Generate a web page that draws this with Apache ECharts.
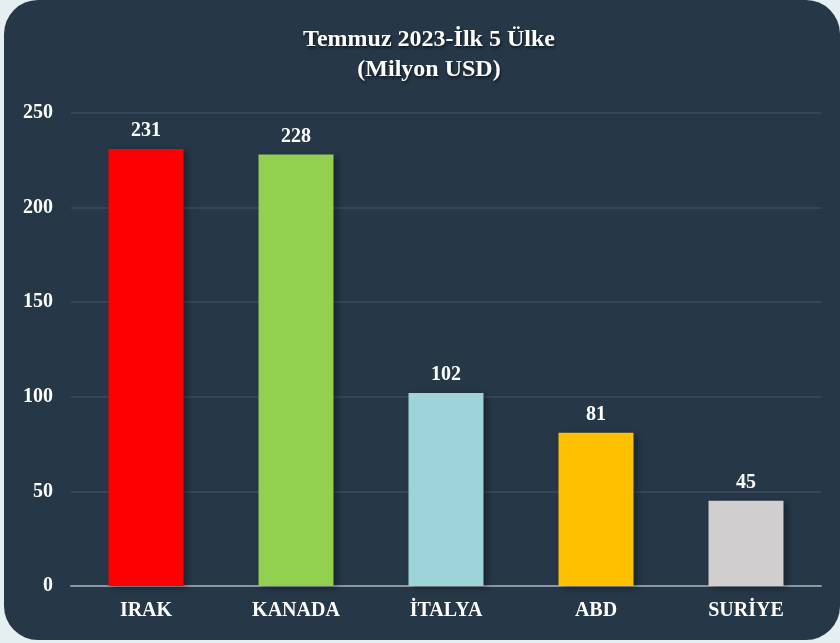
<!DOCTYPE html>
<html>
<head>
<meta charset="utf-8">
<script src="https://cdn.jsdelivr.net/npm/echarts@6/dist/echarts.min.js"></script>
<style>
    html, body { margin: 0; padding: 0; background: #e5eef0; }
    #panel {
        position: absolute; left: 4px; top: 0; width: 836px; height: 640px;
        background: #263747; border-radius: 34px;
    }
    #main { position: absolute; left: 0; top: 0; width: 840px; height: 643px; }
</style>
</head>
<body>
<div id="panel"></div>
<div id="main"></div>
<script>
const countries = ['IRAK', 'KANADA', 'İTALYA', 'ABD', 'SURİYE'];
const values = [231, 228, 102, 81, 45];
const barColors = ['#ff0000', '#92d050', '#9dd4da', '#ffc000', '#d0cece'];

var chart = echarts.init(document.getElementById('main'));
var serif = '"Liberation Serif", "Times New Roman", serif';

chart.setOption({
    backgroundColor: 'transparent',
    title: {
        text: 'Temmuz 2023-İlk 5 Ülke\n(Milyon USD)',
        left: 424,
        top: 20,
        textAlign: 'center',
        textStyle: {
            color: '#ffffff',
            fontFamily: serif,
            fontWeight: 'bold',
            fontSize: 24,
            lineHeight: 30,
            textShadowColor: 'rgba(0,0,0,0.6)',
            textShadowBlur: 3,
            textShadowOffsetX: 1,
            textShadowOffsetY: 2
        }
    },
    grid: {
        left: 71,
        right: 19,
        top: 113,
        bottom: 57
    },
    xAxis: {
        type: 'category',
        data: countries,
        axisTick: { show: false },
        axisLine: { lineStyle: { color: '#8e979f', width: 2 } },
        axisLabel: {
            color: '#ffffff',
            fontFamily: serif,
            fontWeight: 'bold',
            fontSize: 20,
            margin: 15
        }
    },
    yAxis: {
        type: 'value',
        min: 0,
        max: 250,
        interval: 50,
        axisLine: { show: false },
        axisTick: { show: false },
        splitLine: { lineStyle: { color: '#3b4c5c', width: 1.5 } },
        axisLabel: {
            color: '#ffffff',
            fontFamily: serif,
            fontWeight: 'bold',
            fontSize: 20,
            margin: 18
        }
    },
    series: [{
        type: 'bar',
        data: values.map(function (v, i) {
            return { value: v, itemStyle: { color: barColors[i] } };
        }),
        barWidth: '50%',
        itemStyle: {
            shadowColor: 'rgba(0,0,0,0.35)',
            shadowBlur: 6,
            shadowOffsetX: 3,
            shadowOffsetY: 2
        },
        label: {
            show: true,
            position: 'top',
            distance: 8,
            color: '#ffffff',
            fontFamily: serif,
            fontWeight: 'bold',
            fontSize: 20
        }
    }]
});
</script>
</body>
</html>
